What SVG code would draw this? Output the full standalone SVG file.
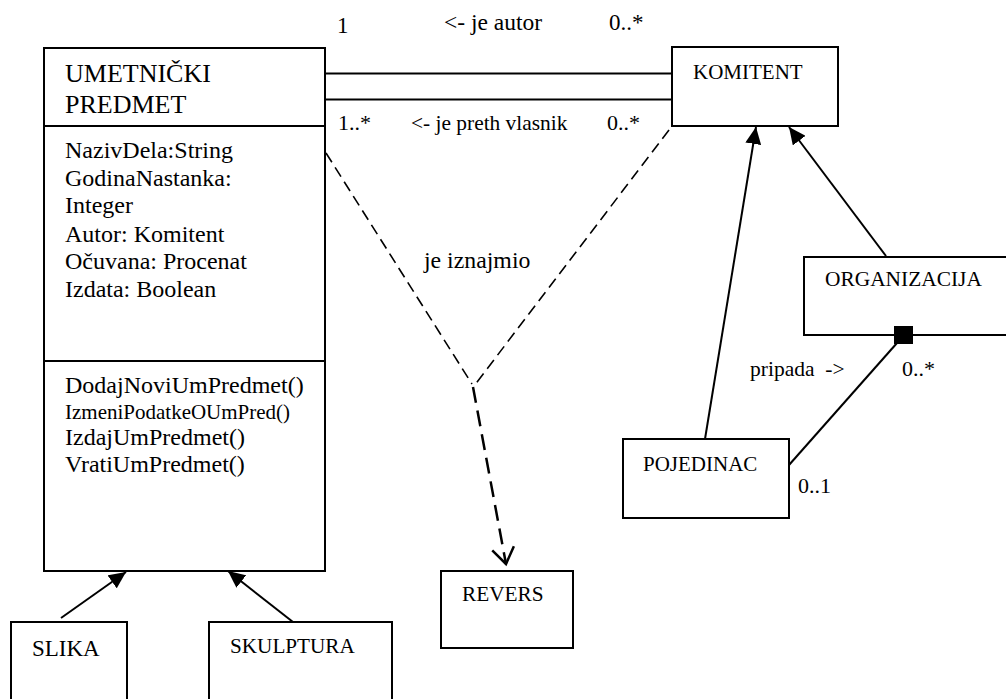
<svg xmlns="http://www.w3.org/2000/svg" width="1006" height="699" viewBox="0 0 1006 699">
<defs>
<style>
.box{fill:#fff;stroke:#000;stroke-width:2}
.t{font-family:"Liberation Serif","Times New Roman",serif;fill:#000}
.ln{stroke:#000;stroke-width:2;fill:none}
.dash{stroke:#000;stroke-width:1.6;fill:none;stroke-dasharray:11 6}
.dash2{stroke:#000;stroke-width:2.5;fill:none;stroke-dasharray:16 8}
</style>
<marker id="tri" markerUnits="userSpaceOnUse" markerWidth="18" markerHeight="16" refX="17" refY="8" orient="auto">
<path d="M0,0 L17,8 L0,16 z" fill="#000"/>
</marker>
<marker id="open" markerUnits="userSpaceOnUse" markerWidth="20" markerHeight="24" refX="17" refY="12" orient="auto">
<path d="M1,1 L17,12 L1,23" fill="none" stroke="#000" stroke-width="2.5"/>
</marker>
</defs>
<rect width="1006" height="699" fill="#fff"/>

<g id="umetnicki-predmet">
<rect class="box" x="44" y="48" width="281" height="523"/>
<line class="ln" x1="44" y1="126" x2="325" y2="126"/>
<line class="ln" x1="44" y1="361" x2="325" y2="361"/>
<text class="t" x="65" y="82" font-size="26">UMETNIČKI</text>
<text class="t" x="65" y="113" font-size="26">PREDMET</text>
<text class="t" font-size="24">
<tspan x="65" y="158">NazivDela:String</tspan>
<tspan x="65" y="186">GodinaNastanka:</tspan>
<tspan x="65" y="213">Integer</tspan>
<tspan x="65" y="242">Autor: Komitent</tspan>
<tspan x="65" y="269">Očuvana: Procenat</tspan>
<tspan x="65" y="297">Izdata: Boolean</tspan>
</text>
<text class="t" x="65" y="393" font-size="24">DodajNoviUmPredmet()</text>
<text class="t" x="65" y="419" font-size="21">IzmeniPodatkeOUmPred()</text>
<text class="t" x="65" y="445" font-size="24">IzdajUmPredmet()</text>
<text class="t" x="65" y="472" font-size="24">VratiUmPredmet()</text>
</g>

<g id="komitent">
<rect class="box" x="672" y="47" width="166" height="79"/>
<text class="t" x="693" y="79" font-size="21">KOMITENT</text>
</g>

<g id="organizacija">
<rect class="box" x="804" y="257" width="205" height="78"/>
<text class="t" x="825" y="286" font-size="21.4">ORGANIZACIJA</text>
</g>

<g id="pojedinac">
<rect class="box" x="623" y="439" width="166" height="79"/>
<text class="t" x="643" y="471" font-size="21">POJEDINAC</text>
</g>

<g id="revers">
<rect class="box" x="441" y="571" width="132" height="77"/>
<text class="t" x="462" y="601" font-size="21.3">REVERS</text>
</g>

<g id="slika">
<rect class="box" x="11" y="622" width="116" height="90"/>
<text class="t" x="32" y="656" font-size="23">SLIKA</text>
</g>

<g id="skulptura">
<rect class="box" x="209" y="622" width="183" height="90"/>
<text class="t" x="230" y="653" font-size="21.2">SKULPTURA</text>
</g>

<g id="connectors">
<line class="ln" x1="325" y1="73.5" x2="672" y2="73.5"/>
<line class="ln" x1="325" y1="99.5" x2="672" y2="99.5"/>
<line class="dash" x1="326" y1="153" x2="472" y2="384"/>
<line class="dash" x1="669" y1="130" x2="474" y2="386"/>
<line class="dash2" x1="473" y1="387" x2="506" y2="564" marker-end="url(#open)"/>
<line class="ln" x1="705" y1="439" x2="756" y2="127" marker-end="url(#tri)"/>
<line class="ln" x1="886" y1="256" x2="789" y2="127" marker-end="url(#tri)"/>
<line class="ln" x1="61" y1="618" x2="126" y2="572" marker-end="url(#tri)"/>
<line class="ln" x1="293" y1="622" x2="228" y2="571" marker-end="url(#tri)"/>
<line class="ln" x1="897" y1="343" x2="789" y2="465"/>
<rect x="894" y="326" width="19" height="18" fill="#000"/>
<text class="t" x="337" y="33" font-size="23">1</text>
<text class="t" x="444" y="30" font-size="23.5">&lt;- je autor</text>
<text class="t" x="609" y="30" font-size="23">0..*</text>
<text class="t" x="338" y="130" font-size="22">1..*</text>
<text class="t" x="411" y="130" font-size="21.4">&lt;- je preth vlasnik</text>
<text class="t" x="607" y="130" font-size="22">0..*</text>
<text class="t" x="424" y="268" font-size="23.8">je iznajmio</text>
<text class="t" x="750" y="376" font-size="21.5" xml:space="preserve">pripada  -&gt;</text>
<text class="t" x="902" y="376" font-size="22">0..*</text>
<text class="t" x="798" y="493" font-size="22">0..1</text>
</g>
</svg>
